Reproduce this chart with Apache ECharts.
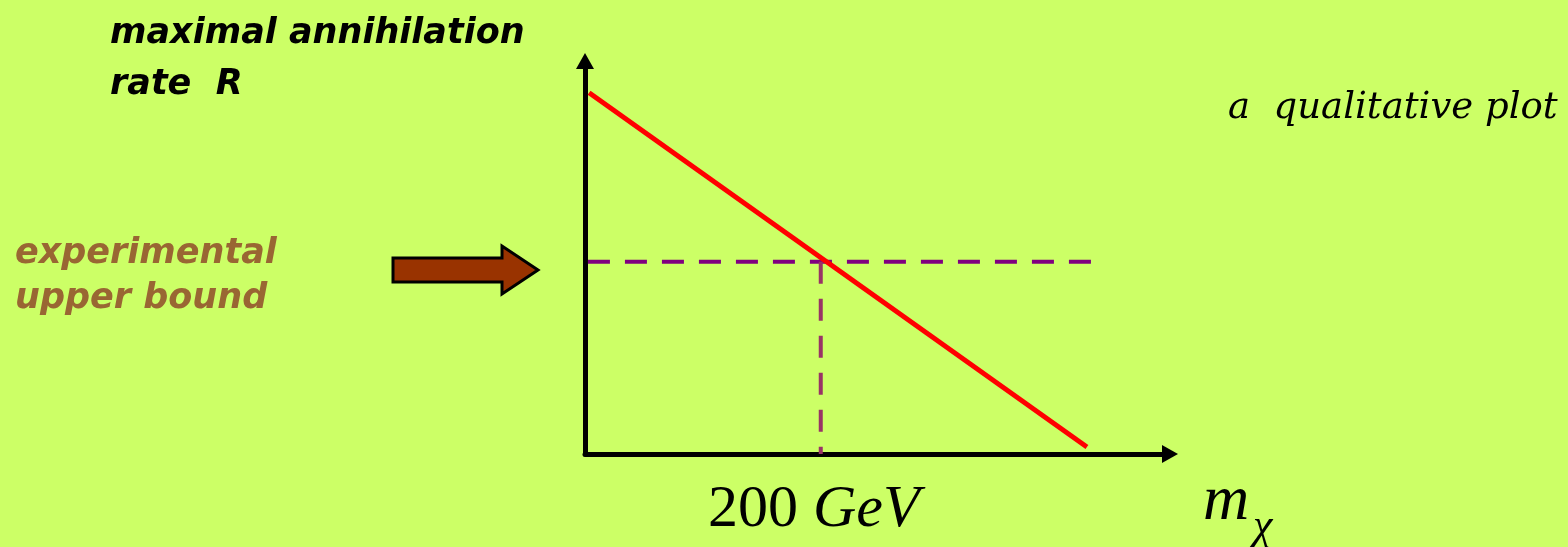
<!DOCTYPE html>
<html>
<head>
<meta charset="utf-8">
<script src="https://cdn.jsdelivr.net/npm/echarts@6/dist/echarts.min.js"></script>
<style>
  html, body { margin: 0; padding: 0; background: #ccff66; }
  #chart { width: 1568px; height: 547px; }
</style>
</head>
<body>
<div id="chart"></div>
<script>
// qualitative plot: rate R falls with mass m_chi, bound crosses at 200 GeV
const curveMass = [0.7, 85.8];
const curveRate = [91.9, 1.8];
const boundRate = 48.9;
const boundMass = [0.5, 87.2];
const crossMass = 40.3;
const crossLabel = '200';

const chart = echarts.init(document.getElementById('chart'));

const option = {
  animation: false,
  backgroundColor: '#ccff66',
  grid: { left: 585, right: 398, top: 61, bottom: 93 },
  xAxis: {
    type: 'value', min: 0, max: 100,
    axisLine: { show: true, lineStyle: { color: '#000', width: 5 }, symbol: ['none', 'triangle'], symbolSize: [18, 16] },
    axisTick: { show: false }, axisLabel: { show: false }, splitLine: { show: false }
  },
  yAxis: {
    type: 'value', min: 0, max: 100,
    axisLine: { show: true, lineStyle: { color: '#000', width: 5 }, symbol: ['none', 'triangle'], symbolSize: [18, 16] },
    axisTick: { show: false }, axisLabel: { show: false }, splitLine: { show: false }
  },
  series: [
    {
      type: 'line', symbol: 'none', z: 3,
      data: curveMass.map((m, i) => [m, curveRate[i]]),
      lineStyle: { color: '#ff0000', width: 5 }
    },
    {
      type: 'line', symbol: 'none', z: 2,
      data: boundMass.map(m => [m, boundRate]),
      lineStyle: { color: '#800080', width: 4, type: [22, 15] }
    },
    {
      type: 'line', symbol: 'none', z: 2,
      data: [[crossMass, boundRate], [crossMass, 0]],
      lineStyle: { color: '#993366', width: 4, type: [22, 15] }
    }
  ],
  graphic: [
    { type: 'text', left: 110, top: 16, style: { text: 'maximal annihilation', font: 'italic bold 35px "DejaVu Sans"', fill: '#000' } },
    { type: 'text', left: 110, top: 67, style: { text: 'rate  R', font: 'italic bold 35px "DejaVu Sans"', fill: '#000' } },
    { type: 'text', left: 15, top: 236, style: { text: 'experimental', font: 'italic bold 35px "DejaVu Sans"', fill: '#996633' } },
    { type: 'text', left: 15, top: 281, style: { text: 'upper bound', font: 'italic bold 35px "DejaVu Sans"', fill: '#996633' } },
    { type: 'text', left: 1228, top: 90, style: { text: 'a  qualitative plot', font: 'italic 37px "DejaVu Serif"', fill: '#000' } },
    {
      type: 'polygon',
      shape: { points: [[393, 258], [502, 258], [502, 246], [538, 270], [502, 294], [502, 282], [393, 282]] },
      style: { fill: '#993300', stroke: '#000', lineWidth: 3 }
    },
    {
      type: 'text', left: 708, top: 480,
      style: {
        text: '{n|' + crossLabel + ' }{i|GeV}',
        rich: {
          n: { font: '60px "Liberation Serif"', fill: '#000' },
          i: { font: 'italic 60px "Liberation Serif"', fill: '#000' }
        }
      }
    },
    { type: 'text', left: 1203, top: 470, style: { text: 'm', font: 'italic 64px "Liberation Serif"', fill: '#000' } },
    { type: 'text', left: 1253, top: 505, style: { text: 'χ', font: 'italic 44px "Liberation Serif"', fill: '#000' } }
  ]
};

chart.setOption(option);
</script>
</body>
</html>
